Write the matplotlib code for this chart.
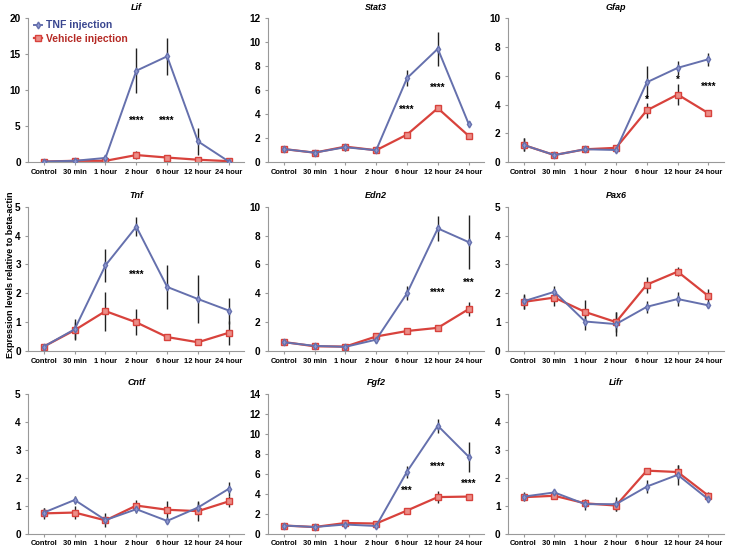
import numpy as np
import matplotlib
matplotlib.use('Agg')
import matplotlib.pyplot as plt

plt.rcParams['font.family'] = ['Liberation Sans', 'DejaVu Sans']

# time points
times = ['Control', '30 min', '1 hour', '2 hour', '6 hour', '12 hour', '24 hour']

# gene names (panel titles)
genes = ['Lif', 'Stat3', 'Gfap', 'Tnf', 'Edn2', 'Pax6', 'Cntf', 'Fgf2', 'Lifr']

# TNF injection means / errors
tnf_lif = [0.1, 0.2, 0.6, 12.7, 14.7, 2.9, 0.1]
tnf_lif_err = [0.05, 0.1, 0.2, 3.1, 2.6, 1.9, 0.05]
tnf_stat3 = [1.1, 0.8, 1.25, 1.0, 7.0, 9.45, 3.2]
tnf_stat3_err = [0.1, 0.05, 0.3, 0.1, 0.65, 1.4, 0.2]
tnf_gfap = [1.2, 0.5, 0.9, 0.85, 5.55, 6.55, 7.15]
tnf_gfap_err = [0.45, 0.05, 0.1, 0.15, 1.1, 0.5, 0.45]
tnf_tnf = [0.15, 0.75, 2.97, 4.31, 2.22, 1.8, 1.4]
tnf_tnf_err = [0.03, 0.37, 0.58, 0.33, 0.77, 0.83, 0.45]
tnf_edn2 = [0.6, 0.35, 0.28, 0.78, 4.0, 8.5, 7.55]
tnf_edn2_err = [0.05, 0.05, 0.05, 0.2, 0.5, 0.85, 1.9]
tnf_pax6 = [1.72, 2.05, 1.02, 0.93, 1.53, 1.8, 1.58]
tnf_pax6_err = [0.25, 0.2, 0.3, 0.43, 0.2, 0.25, 0.1]
tnf_cntf = [0.75, 1.2, 0.48, 0.87, 0.45, 0.93, 1.6]
tnf_cntf_err = [0.15, 0.15, 0.25, 0.15, 0.05, 0.2, 0.25]
tnf_fgf2 = [0.8, 0.65, 0.9, 0.75, 6.2, 10.8, 7.7]
tnf_fgf2_err = [0.1, 0.1, 0.15, 0.2, 0.6, 0.7, 1.5]
tnf_lifr = [1.32, 1.47, 1.05, 1.05, 1.68, 2.1, 1.22]
tnf_lifr_err = [0.15, 0.1, 0.2, 0.25, 0.22, 0.35, 0.1]

# vehicle injection means / errors
veh_lif = [0.1, 0.2, 0.2, 1.0, 0.65, 0.35, 0.15]
veh_lif_err = [0.05, 0.05, 0.05, 0.6, 0.1, 0.1, 0.05]
veh_stat3 = [1.1, 0.8, 1.3, 1.0, 2.3, 4.5, 2.2]
veh_stat3_err = [0.1, 0.05, 0.2, 0.1, 0.2, 0.2, 0.1]
veh_gfap = [1.2, 0.5, 0.9, 1.0, 3.6, 4.7, 3.4]
veh_gfap_err = [0.45, 0.05, 0.1, 0.1, 0.5, 0.7, 0.2]
veh_tnf = [0.15, 0.72, 1.38, 0.99, 0.48, 0.3, 0.63]
veh_tnf_err = [0.03, 0.3, 0.68, 0.45, 0.05, 0.1, 0.42]
veh_edn2 = [0.62, 0.32, 0.3, 1.0, 1.38, 1.6, 2.9]
veh_edn2_err = [0.05, 0.05, 0.05, 0.1, 0.1, 0.2, 0.5]
veh_pax6 = [1.7, 1.85, 1.35, 1.0, 2.3, 2.75, 1.9]
veh_pax6_err = [0.25, 0.3, 0.42, 0.35, 0.28, 0.15, 0.25]
veh_cntf = [0.72, 0.75, 0.47, 1.0, 0.85, 0.8, 1.15]
veh_cntf_err = [0.2, 0.22, 0.1, 0.2, 0.3, 0.35, 0.2]
veh_fgf2 = [0.8, 0.65, 1.05, 1.0, 2.3, 3.65, 3.7]
veh_fgf2_err = [0.1, 0.1, 0.1, 0.1, 0.25, 0.6, 0.2]
veh_lifr = [1.3, 1.35, 1.08, 1.0, 2.25, 2.2, 1.35]
veh_lifr_err = [0.1, 0.05, 0.1, 0.2, 0.05, 0.25, 0.15]

# y axis tops and steps
y_max = [20, 12, 10, 5, 10, 5, 5, 14, 5]
y_step = [5, 2, 2, 1, 2, 1, 1, 2, 1]

# significance stars: (gene index, time index, y, label)
stars = [
  (0, 3, 5.8, '****'), (0, 4, 5.8, '****'),
  (1, 4, 4.4, '****'), (1, 5, 6.2, '****'),
  (2, 4, 4.3, '*'), (2, 5, 5.7, '*'), (2, 6, 5.25, '****'),
  (3, 3, 2.65, '****'),
  (4, 5, 4.0, '****'), (4, 6, 4.7, '***'),
  (7, 4, 4.3, '***'), (7, 5, 6.7, '****'), (7, 6, 5.0, '****'),
]

tnf_all = [tnf_lif, tnf_stat3, tnf_gfap, tnf_tnf, tnf_edn2, tnf_pax6, tnf_cntf, tnf_fgf2, tnf_lifr]
tnf_err_all = [tnf_lif_err, tnf_stat3_err, tnf_gfap_err, tnf_tnf_err, tnf_edn2_err, tnf_pax6_err,
               tnf_cntf_err, tnf_fgf2_err, tnf_lifr_err]
veh_all = [veh_lif, veh_stat3, veh_gfap, veh_tnf, veh_edn2, veh_pax6, veh_cntf, veh_fgf2, veh_lifr]
veh_err_all = [veh_lif_err, veh_stat3_err, veh_gfap_err, veh_tnf_err, veh_edn2_err, veh_pax6_err,
               veh_cntf_err, veh_fgf2_err, veh_lifr_err]

blue = '#6570ad'
red = '#d8423c'

fig = plt.figure(figsize=(7.29, 5.5), dpi=100)

lefts = [0.039, 0.368, 0.697]
bottoms = [0.705, 0.362, 0.030]
w, h = 0.296, 0.262

x = np.arange(len(times))

for i, gene in enumerate(genes):
  r, c = divmod(i, 3)
  ax = fig.add_axes([lefts[c], bottoms[r], w, h if r < 2 else 0.254])

  ax.errorbar(x, tnf_all[i], yerr=tnf_err_all[i], fmt='none', ecolor='#222222', elinewidth=1.0, capsize=0, zorder=1)
  ax.errorbar(x, veh_all[i], yerr=veh_err_all[i], fmt='none', ecolor='#222222', elinewidth=1.0, capsize=0, zorder=1)
  ax.plot(x, tnf_all[i], color=blue, lw=1.4, marker='d', ms=3.5, mfc='#8f99d0', mec=blue, label='TNF injection', zorder=3)
  ax.plot(x, veh_all[i], color=red, lw=1.6, marker='s', ms=4, mfc='#eb8e88', mec=red, label='Vehicle injection', zorder=2)

  for g, t, yv, lab in stars:
    if g == i:
      ax.text(t, yv, lab, ha='center', va='center', fontsize=7, fontweight='bold')

  ax.set_xlim(-0.5, 6.5)
  ax.set_ylim(0, y_max[i])
  ax.set_yticks(np.arange(0, y_max[i] + 0.01, y_step[i]))
  ax.set_xticks(x)
  ax.set_xticklabels(times)
  ax.set_title(gene, fontsize=6.5, fontstyle='italic', fontweight='bold', pad=6)

  for s in ['top', 'right']:
    ax.spines[s].set_visible(False)
  for s in ['left', 'bottom']:
    ax.spines[s].set_color('#999999')
    ax.spines[s].set_linewidth(0.8)
  ax.tick_params(axis='both', colors='#999999', length=2.5, width=0.8, labelcolor='black')
  ax.tick_params(axis='x', labelsize=5.4, pad=2.5)
  ax.tick_params(axis='y', labelsize=7.2, pad=3)
  for lbl in ax.get_xticklabels() + ax.get_yticklabels():
    lbl.set_fontweight('bold')

  if i == 0:
    ax.legend(loc='upper left', frameon=False, prop={'weight': 'bold', 'size': 7.5},
              handlelength=0.8, handletextpad=0.4, borderaxespad=0.1, labelspacing=0.3,
              bbox_to_anchor=(0.0, 1.02), labelcolor=['#3a4790', '#b52a25'])

fig.text(0.008, 0.5, 'Expression levels relative to beta-actin', rotation=90, ha='left', va='center',
         fontsize=6.5, fontweight='bold')

fig.savefig('out.png', dpi=100)
